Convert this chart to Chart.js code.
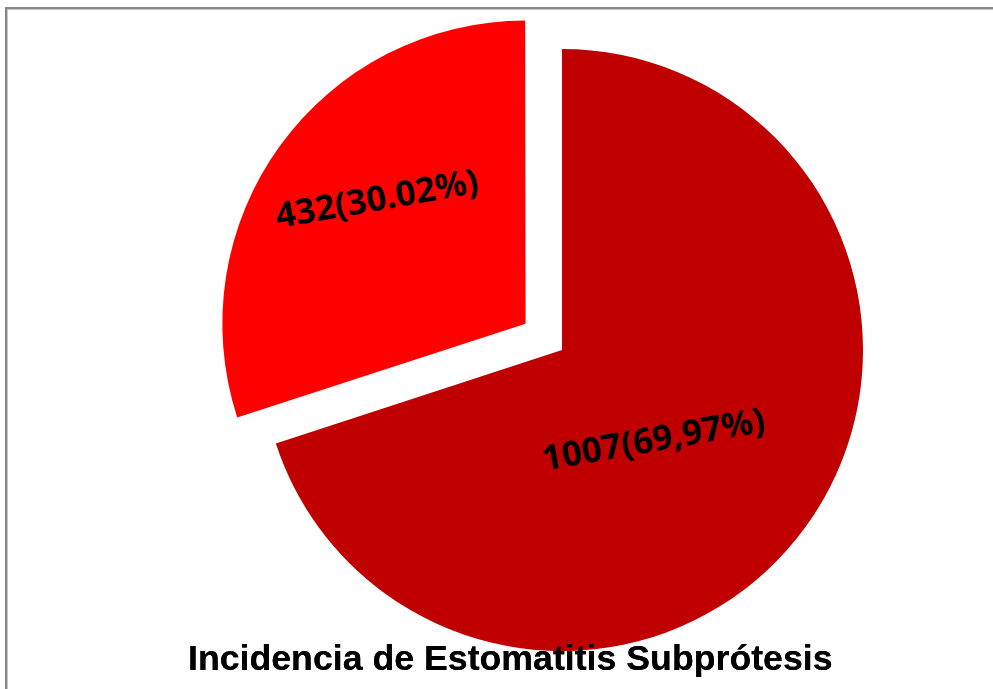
<!DOCTYPE html>
<html>
<head>
<meta charset="utf-8">
<script src="https://cdn.jsdelivr.net/npm/chart.js@4.4.0/dist/chart.umd.min.js"></script>
<style>
  html, body { margin: 0; padding: 0; background: #ffffff; }
  #wrap { position: relative; width: 993px; height: 689px; overflow: hidden; background: #ffffff; }
  #c { position: absolute; left: 0; top: 0; }
  #frame {
    position: absolute; left: 5px; top: 7px; right: -20px; bottom: -20px;
    border-top: 2px solid #878787; border-left: 2px solid #878787;
    box-shadow: inset 1px 1px 0 #c8c8c8;
    pointer-events: none;
  }
</style>
</head>
<body>
<div id="wrap">
  <canvas id="c" width="993" height="689"></canvas>
  <div id="frame"></div>
</div>
<script>
// ---- data ----
const categories = ['Sin estomatitis subprótesis', 'Con estomatitis subprótesis'];
const values = [1007, 432];
const percentTexts = ['69,97%', '30.02%'];
const titleText = 'Incidencia de Estomatitis Subprótesis';

// ---- value labels drawn inside the slices ----
const sliceLabelPlugin = {
  id: 'sliceLabels',
  afterDatasetsDraw(chart, args, opts) {
    const meta = chart.getDatasetMeta(0);
    const ctx = chart.ctx;
    meta.data.forEach((arc, i) => {
      const p = arc.getProps(['x', 'y', 'startAngle', 'endAngle', 'outerRadius'], true);
      const off = (arc.options.offset || 0) / 4;
      const mid = (p.startAngle + p.endAngle) / 2;
      const cx = p.x + Math.cos(mid) * off;
      const cy = p.y + Math.sin(mid) * off;
      const a = p.startAngle + (p.endAngle - p.startAngle) * opts.along;
      const r = p.outerRadius * opts.radial[i];
      const x = cx + Math.cos(a) * r;
      const y = cy + Math.sin(a) * r;
      ctx.save();
      ctx.translate(x, y);
      ctx.rotate(opts.rotation * Math.PI / 180);
      ctx.font = opts.font;
      ctx.fillStyle = opts.color;
      ctx.textAlign = 'center';
      ctx.textBaseline = 'middle';
      ctx.fillText(values[i] + '(' + percentTexts[i] + ')', 0, 0);
      ctx.restore();
    });
    // keep the title above the pie
    if (chart.titleBlock) chart.titleBlock.draw(chart.chartArea);
  }
};

new Chart(document.getElementById('c'), {
  type: 'pie',
  data: {
    labels: categories,
    datasets: [{
      data: values,
      backgroundColor: ['#C00000', '#FF0000'],
      borderWidth: 0,
      offset: [0, 180],
      hoverOffset: 0,
      radius: 301,
      clip: false
    }]
  },
  options: {
    responsive: false,
    animation: false,
    events: [],
    rotation: 0,
    layout: { padding: { left: 188, right: 57, top: 61, bottom: 0 } },
    plugins: {
      legend: { display: false },
      tooltip: { enabled: false },
      title: {
        display: true,
        text: titleText,
        position: 'bottom',
        align: 'start',
        color: '#000000',
        font: { family: "'Liberation Sans', Arial, sans-serif", size: 35.7, weight: 'bold', lineHeight: 1.2 },
        padding: { top: 0, bottom: 7 }
      },
      sliceLabels: {
        along: 0.535,
        radial: [0.43, 0.64],
        rotation: -10,
        color: '#000000',
        font: "bold 35px 'Noto Sans', 'DejaVu Sans', sans-serif"
      }
    }
  },
  plugins: [sliceLabelPlugin]
});
</script>
</body>
</html>
